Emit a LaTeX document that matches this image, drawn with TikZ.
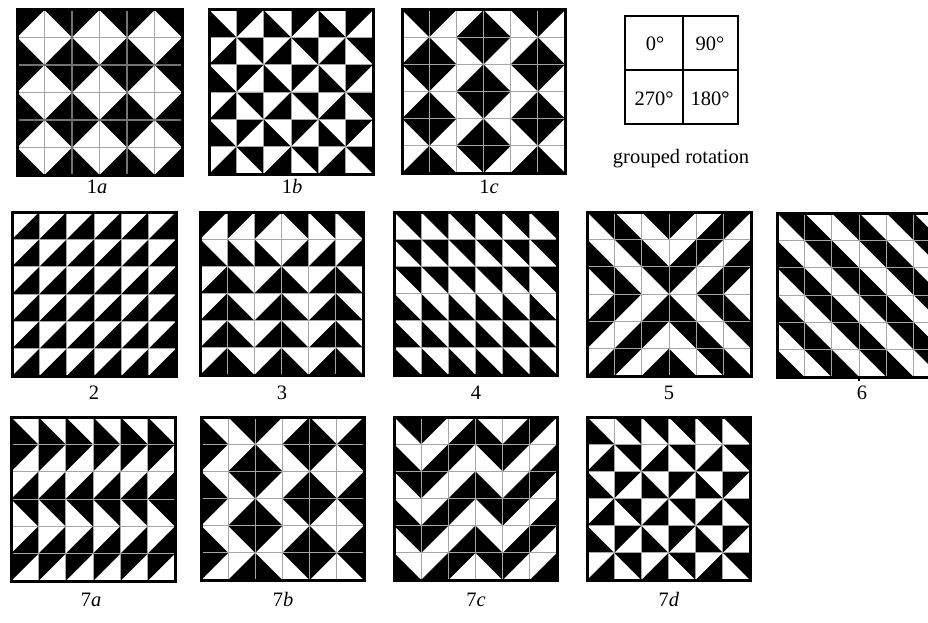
\documentclass[tikz,border=0pt]{standalone}
\usepackage{fontspec}
\setmainfont{Liberation Serif}
\usetikzlibrary{positioning}

\tikzset{
    gridln/.style={draw=black!35, line width=0.9pt},
    groupln/.style={draw=black!55, line width=1.4pt},
    frameln/.style={draw=black, line width=3pt},
    lbl/.style={font=\fontsize{20.5}{24}\selectfont, inner sep=0pt, anchor=base},
    legendln/.style={draw=black, line width=1.3pt},
}

% one 6x6 panel of half-black tiles: name, x, y, size, rows (0=TL,1=TR,2=BR,3=BL black)
\newcommand{\tilepanel}[5]{%
    \coordinate (#1) at (#2,#3);
    \pgfmathsetmacro{\tsz}{#4/6}
    \fill[white] (#2,#3) rectangle ++(#4,#4);
    \foreach \rowdef [count=\ri from 0] in {#5} {
        \foreach \v [count=\ci from 0] in \rowdef {
            \pgfmathsetmacro{\xa}{#2+\ci*\tsz}
            \pgfmathsetmacro{\ya}{#3+\ri*\tsz}
            \pgfmathsetmacro{\xb}{\xa+\tsz}
            \pgfmathsetmacro{\yb}{\ya+\tsz}
            \ifcase\v
                \fill (\xa,\ya) -- (\xb,\ya) -- (\xa,\yb) -- cycle;
            \or
                \fill (\xa,\ya) -- (\xb,\ya) -- (\xb,\yb) -- cycle;
            \or
                \fill (\xb,\ya) -- (\xb,\yb) -- (\xa,\yb) -- cycle;
            \or
                \fill (\xa,\ya) -- (\xb,\yb) -- (\xa,\yb) -- cycle;
            \fi
        }
    }
    \foreach \k in {1,...,5} {
        \draw[gridln] (#2+\k*\tsz,#3) -- ++(0,#4);
        \draw[gridln] (#2,#3+\k*\tsz) -- ++(#4,0);
    }
    \draw[frameln] (#2,#3) rectangle ++(#4,#4);
}

\begin{document}
\begin{tikzpicture}[x=1pt, y=-1pt]
    \clip (0,0) rectangle (928,623);
    \fill[white] (0,0) rectangle (928,623);

    % Row 1: grouped rotations
    \tilepanel{p1a}{17}{10}{165}{{0,1,0,1,0,1},{3,2,3,2,3,2},{0,1,0,1,0,1},{3,2,3,2,3,2},{0,1,0,1,0,1},{3,2,3,2,3,2}}
    \foreach \k in {2,4} {
        \draw[groupln] (17+\k*27.5,10) -- ++(0,165);
        \draw[groupln] (17,10+\k*27.5) -- ++(165,0);
    }
    \draw[frameln] (17,10) rectangle ++(165,165);
    \tilepanel{p1b}{209}{10}{164}{{3,0,3,0,3,0},{2,1,2,1,2,1},{3,0,3,0,3,0},{2,1,2,1,2,1},{3,0,3,0,3,0},{2,1,2,1,2,1}}
    \tilepanel{p1c}{402}{10}{163}{{1,0,2,3,1,0},{2,3,1,0,2,3},{1,0,2,3,1,0},{2,3,1,0,2,3},{1,0,2,3,1,0},{2,3,1,0,2,3}}

    % Legend
    \draw[legendln] (625,16) rectangle (738,124);
    \draw[legendln] (683,16) -- (683,124);
    \draw[legendln] (625,70) -- (738,70);
    \node[lbl] (r0) at (655,51) {0°};
    \node[lbl] (r90) at (710,51) {90°};
    \node[lbl] (r270) at (654,106) {270°};
    \node[lbl] (r180) at (710,106) {180°};
    \node[lbl] (grp) at (681,163) {grouped rotation};

    \node[lbl] (l1a) at (97,193) {1\textit{a}};
    \node[lbl] (l1b) at (292,193) {1\textit{b}};
    \node[lbl] (l1c) at (489,193) {1\textit{c}};

    % Row 2
    \tilepanel{p2}{12}{212}{164}{{2,2,2,2,2,2},{2,2,2,2,2,2},{2,2,2,2,2,2},{2,2,2,2,2,2},{2,2,2,2,2,2},{2,2,2,2,2,2}}
    \tilepanel{p3}{200}{212}{163}{{0,0,0,1,1,1},{3,3,3,2,2,2},{2,3,2,3,2,3},{2,3,2,3,2,3},{2,3,2,3,2,3},{2,3,2,3,2,3}}
    \tilepanel{p4}{394}{212}{163}{{1,1,1,1,1,1},{1,1,1,1,1,1},{1,1,1,1,1,1},{3,3,3,3,3,3},{3,3,3,3,3,3},{3,3,3,3,3,3}}
    \tilepanel{p5}{587}{212}{164}{{1,3,1,0,2,0},{3,1,3,2,0,2},{1,3,1,0,2,0},{2,0,2,3,1,3},{0,2,0,1,3,1},{2,0,2,3,1,3}}
    \tilepanel{p6}{777}{213}{164}{{1,3,1,3,1,3},{3,1,3,1,3,1},{1,3,1,3,1,3},{3,1,3,1,3,1},{1,3,1,3,1,3},{3,1,3,1,3,1}}
    \draw[line width=1.5pt] (859,377) -- (859,381);

    \node[lbl] (l2) at (94,399) {2};
    \node[lbl] (l3) at (282,399) {3};
    \node[lbl] (l4) at (476,399) {4};
    \node[lbl] (l5) at (669,399) {5};
    \node[lbl] (l6) at (862,399) {6};

    % Row 3
    \tilepanel{p7a}{11}{417}{164}{{3,3,3,3,3,3},{0,0,0,0,0,0},{2,2,2,2,2,2},{1,1,1,1,1,1},{2,2,2,2,2,2},{0,0,0,0,0,0}}
    \tilepanel{p7b}{201}{417}{163}{{3,1,0,2,3,2},{0,2,3,1,0,1},{3,1,0,2,3,2},{0,2,3,1,0,1},{3,1,0,2,3,2},{0,2,3,1,0,1}}
    \tilepanel{p7c}{394}{417}{163}{{1,0,2,3,2,0},{3,2,0,1,0,2},{1,0,2,3,2,0},{3,2,0,1,0,2},{1,0,2,3,2,0},{3,2,0,1,0,2}}
    \tilepanel{p7d}{587}{417}{163}{{3,1,1,1,1,1},{2,1,2,1,2,1},{3,0,3,0,3,0},{2,1,2,1,2,1},{3,0,3,0,3,0},{2,1,2,1,2,1}}

    \node[lbl] (l7a) at (91,606) {7\textit{a}};
    \node[lbl] (l7b) at (283,606) {7\textit{b}};
    \node[lbl] (l7c) at (476,606) {7\textit{c}};
    \node[lbl] (l7d) at (669,606) {7\textit{d}};
\end{tikzpicture}
\end{document}
